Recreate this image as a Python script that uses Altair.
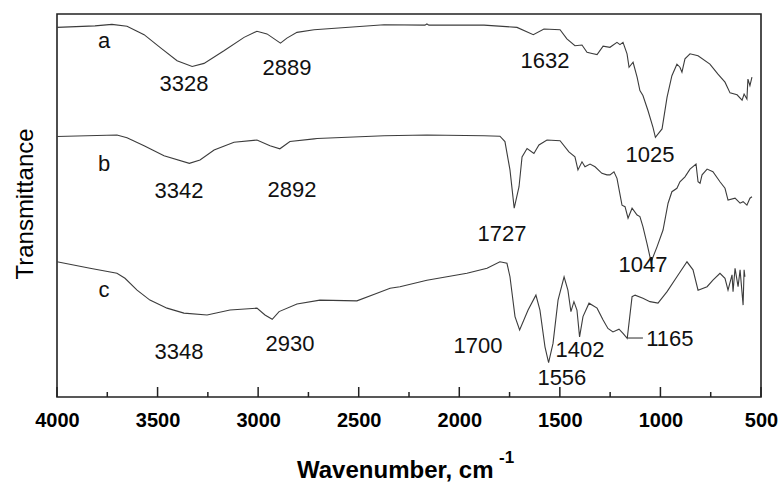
import altair as alt
import pandas as pd

# ---- spectrum a ----
a_wn = [4000, 3811, 3727, 3652, 3567, 3488, 3403, 3328, 3269, 3170, 3070, 3006, 2956, 2889, 2857, 2807,
        2722, 2374, 2171, 2161, 2151, 2046, 1877, 1713, 1632, 1579, 1499, 1465, 1425, 1390, 1365, 1340,
        1315, 1285, 1251, 1216, 1201, 1186, 1166, 1156, 1136, 1116, 1102, 1087, 1062, 1037, 1025, 992,
        967, 943, 918, 903, 893, 878, 853, 813, 754, 714, 679, 654, 619, 594, 584, 570, 565, 555, 545]
a_tr = [96.5, 96.9, 97.3, 96.8, 94.6, 91.3, 87.8, 86.3, 87.1, 90.4, 93.9, 95.5, 94.8, 92.4, 93.7, 95.2,
        95.9, 97.2, 97.1, 97.4, 97.1, 97.1, 97.1, 96.5, 94.6, 96.1, 95.9, 93.5, 91.7, 91.9, 90.0, 89.7,
        89.4, 91.6, 91.3, 92.6, 92.0, 92.6, 89.6, 86.1, 87.4, 83.5, 80.0, 78.7, 74.8, 70.4, 67.8, 70.0,
        78.3, 83.9, 86.9, 86.1, 84.8, 88.3, 89.6, 89.1, 86.9, 84.3, 82.2, 79.4, 78.9, 77.5, 79.1, 77.8,
        83.0, 81.3, 83.5]

# ---- spectrum b ----
b_wn = [4000, 3702, 3652, 3567, 3468, 3342, 3289, 3219, 3120, 3006, 2941, 2892, 2842, 2722, 2707, 2374,
        2161, 1877, 1798, 1773, 1748, 1727, 1703, 1688, 1663, 1629, 1604, 1564, 1499, 1455, 1425, 1410,
        1390, 1375, 1350, 1325, 1291, 1266, 1251, 1231, 1216, 1191, 1176, 1161, 1141, 1116, 1102, 1087,
        1067, 1052, 1047, 1017, 987, 962, 943, 918, 903, 878, 853, 823, 813, 803, 793, 768, 739, 704,
        679, 664, 629, 604, 589, 570, 555, 545]
b_tr = [68.0, 68.4, 67.7, 65.6, 63.0, 61.0, 61.9, 64.5, 66.5, 67.1, 65.6, 64.8, 66.7, 67.4, 67.5, 68.2,
        68.4, 68.2, 68.1, 66.7, 59.3, 49.3, 54.9, 62.7, 64.9, 63.6, 65.8, 67.1, 66.9, 64.0, 62.7, 59.3,
        61.4, 60.1, 60.8, 60.1, 58.4, 58.0, 58.0, 58.8, 57.1, 50.1, 49.7, 46.7, 49.3, 47.5, 47.1, 44.5,
        40.1, 36.6, 35.2, 39.2, 43.6, 50.6, 53.6, 54.5, 56.2, 57.5, 59.5, 60.8, 56.2, 55.8, 58.0, 59.5,
        58.8, 56.2, 54.5, 51.4, 51.9, 50.6, 51.0, 50.1, 51.9, 52.3]

# ---- spectrum c ----
c_wn = [4000, 3836, 3702, 3662, 3602, 3538, 3453, 3369, 3254, 3140, 3006, 2966, 2930, 2896, 2807, 2693,
        2509, 2409, 2344, 2295, 2161, 1962, 1862, 1798, 1763, 1748, 1723, 1700, 1658, 1619, 1599, 1574,
        1556, 1534, 1509, 1479, 1460, 1445, 1430, 1415, 1402, 1385, 1355, 1315, 1285, 1261, 1236, 1206,
        1186, 1165, 1141, 1126, 1087, 1052, 1012, 967, 918, 868, 838, 813, 768, 739, 704, 679, 664, 644,
        639, 629, 614, 604, 589, 584, 580]
c_tr = [35.3, 33.6, 32.3, 31.0, 27.9, 25.3, 23.2, 21.9, 21.4, 22.7, 23.2, 21.4, 20.3, 22.3, 24.3, 25.3,
        25.1, 27.1, 28.4, 28.8, 30.5, 32.3, 33.6, 35.3, 34.9, 31.4, 21.0, 17.5, 22.7, 26.6, 22.7, 13.1,
        9.0, 14.0, 25.3, 31.4, 27.9, 22.3, 24.9, 22.7, 15.7, 21.0, 24.5, 23.2, 20.1, 17.9, 17.0, 17.7,
        16.6, 15.3, 26.2, 26.6, 25.8, 24.9, 24.5, 27.5, 31.4, 35.3, 33.2, 27.9, 28.8, 30.5, 32.3, 31.0,
        27.9, 31.9, 27.5, 33.6, 28.8, 33.2, 24.0, 33.2, 31.4]

# ---- annotations ----
ann_text = ["a", "3328", "2889", "1632", "1025",
            "b", "3342", "2892", "1727", "1047",
            "c", "3348", "2930", "1700", "1402", "1556", "1165"]
ann_wn = [3766, 3369, 2857, 1574, 1052,
          3766, 3394, 2832, 1788, 1087,
          3766, 3394, 2842, 1907, 1400, 1490, 953]
ann_tr = [93.0, 81.7, 85.9, 87.8, 63.2,
          60.8, 53.8, 54.0, 42.6, 34.5,
          27.9, 11.8, 13.8, 13.3, 12.3, 4.9, 15.1]

leader_wn = [1161, 1087]
leader_tr = 15.4

major_ticks = [4000, 3500, 3000, 2500, 2000, 1500, 1000, 500]
minor_ticks = [3750, 3250, 2750, 2250, 1750, 1250, 750]

rows = []
for name, wn, tr in (("a", a_wn, a_tr), ("b", b_wn, b_tr), ("c", c_wn, c_tr)):
    for i, (w, t) in enumerate(zip(wn, tr)):
        rows.append({"series": name, "i": i, "wn": w, "tr": t})
spec = pd.DataFrame(rows)
ann = pd.DataFrame({"label": ann_text, "wn": ann_wn, "tr": ann_tr})

FONT = "Liberation Sans"
W, H = 704, 383

xscale = alt.Scale(domain=[500, 4000], reverse=True, nice=False, zero=False)
yscale = alt.Scale(domain=[0, 100], nice=False, zero=False)

xaxis = alt.Axis(values=major_ticks, format="d", ticks=False, domain=False, grid=False,
                 labelFont=FONT, labelFontSize=20, labelFontWeight="bold", labelColor="#000",
                 labelPadding=13, labelFlush=False, title=None)

lines = alt.Chart(spec).mark_line(strokeWidth=1.1, color="#3c3c3c").encode(
    x=alt.X("wn:Q", scale=xscale, axis=xaxis),
    y=alt.Y("tr:Q", scale=yscale, axis=None),
    detail="series:N",
    order="i:Q",
)

texts = alt.Chart(ann).mark_text(font=FONT, fontSize=22, color="#111").encode(
    x=alt.X("wn:Q", scale=xscale), y=alt.Y("tr:Q", scale=yscale), text="label:N")

leader = alt.Chart(pd.DataFrame({"w1": [leader_wn[0]], "w2": [leader_wn[1]], "t": [leader_tr]})).mark_rule(
    color="#3c3c3c", strokeWidth=1.1).encode(
    x=alt.X("w1:Q", scale=xscale), x2="w2:Q", y=alt.Y("t:Q", scale=yscale))

maj = alt.Chart(pd.DataFrame({"t": major_ticks})).mark_rule(color="#222", strokeWidth=1.5).encode(
    x=alt.X("t:Q", scale=xscale), y=alt.value(H), y2=alt.value(H - 10))
mino = alt.Chart(pd.DataFrame({"t": minor_ticks})).mark_rule(color="#222", strokeWidth=1.5).encode(
    x=alt.X("t:Q", scale=xscale), y=alt.value(H), y2=alt.value(H - 5))

xtitle = alt.Chart(pd.DataFrame({"s": ["Wavenumber, cm"]})).mark_text(
    font=FONT, fontSize=24, fontWeight="bold", align="left", baseline="alphabetic", color="#000").encode(
    x=alt.value(240), y=alt.value(464), text="s:N")
xsup = alt.Chart(pd.DataFrame({"s": ["-1"]})).mark_text(
    font=FONT, fontSize=17, fontWeight="bold", align="left", baseline="alphabetic", color="#000").encode(
    x=alt.value(442), y=alt.value(449), text="s:N")
ytitle = alt.Chart(pd.DataFrame({"s": ["Transmittance"]})).mark_text(
    font=FONT, fontSize=24, angle=270, align="center", baseline="alphabetic", color="#000").encode(
    x=alt.value(-24), y=alt.value(190), text="s:N")

chart = alt.layer(lines, maj, mino, leader, texts, xtitle, xsup, ytitle).properties(
    width=W, height=H,
    padding={"left": 57, "top": 14, "right": 20, "bottom": 86},
    autosize="none",
).configure(background="white").configure_view(stroke="#222", strokeWidth=1.6)

chart.save("out.html", embed_options={"renderer": "svg", "actions": False})
